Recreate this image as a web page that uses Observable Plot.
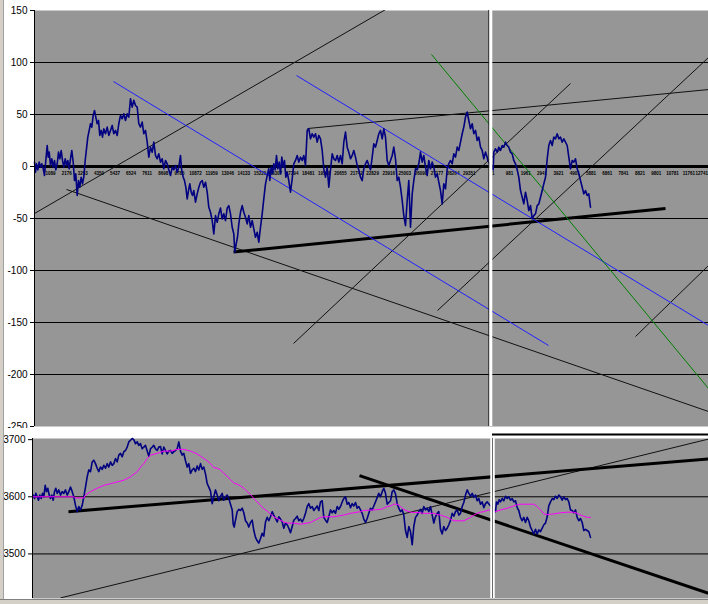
<!DOCTYPE html>
<html><head><meta charset="utf-8">
<script src="https://cdn.jsdelivr.net/npm/d3@7"></script>
<script src="https://cdn.jsdelivr.net/npm/@observablehq/plot@0.6"></script>
<style>
body{margin:0;background:#fff;width:708px;height:604px;overflow:hidden;position:relative;font-family:Arial,"Liberation Sans",sans-serif}
#top{position:absolute;left:0;top:0}
#bot{position:absolute;left:0;top:428px}
#edge{position:absolute;left:0;top:0;width:3px;height:604px;background:#d4d0c8;border-right:1px solid #a0a0a0}
#status{position:absolute;left:0;top:599px;width:708px;height:5px;background:#d4d0c8;border-top:1px solid #808080}
</style></head><body>
<div id="top"></div><div id="bot"></div><div id="edge"></div><div id="status"></div>
<script>
// ---------- DATA ----------
// Upper panel: deviation series (bar position, value)
const devBar = [0,1,2,3.3,4.7,6,7.3,8.7,10,11.3,12.7,13.7,14.7,16,17.3,18.7,20,21.3,22.7,24,25.3,26.7,28,29.3,30.7,32,33.3,34.7,36,37.3,38.7,40,41.3,42.7,44,45.3,46.7,48,49.3,50.7,52,53.3,54.7,56,57.3,58.7,60,61.3,62.7,64,65.3,66.7,68,69.3,71,72.7,74.3,76,77.7,79.3,81,82.7,84.3,86,87.7,89.3,91,92.7,94.3,96,97.7,99.3,101,102.7,104.3,106,107.7,109.3,111,112.7,114.3,116,117.7,119.3,121,122.7,124.3,126,127.7,129.3,131,132.7,134.3,136,137.7,139.3,141,142.7,144.3,146,147,148.7,150,151.3,152.7,154,155.3,156.7,158,159.3,161,162.7,164.3,166,167.7,169.3,171,172.7,174.3,176,177.7,179.3,181,182.7,184.3,186,187.7,189.3,191,192.7,194.3,196,197.7,199.3,200.3,201.7,203,204.3,206,207.7,209.3,211,212.7,214.3,216,217.7,219.3,221,222.7,224.3,226,227.7,229.3,231,232.7,234.3,235.3,236.7,238,239.3,240.7,242,243.3,244.7,246,247.3,248.7,250,251.3,252.7,254.3,256,257.7,259.3,261,262.7,264.3,266,267.7,269.3,271,272.7,274.3,276,277.7,279.3,281,282.7,284.3,286,287.7,289.3,291,292.7,294.3,296,297.7,299.3,301,302.7,304.3,306,307.7,309.3,311,312.7,314.3,316,317.7,319.3,321,322.7,324.3,326,327.7,329.3,331,332.7,334.3,336,337.7,339.3,341,342.7,344.3,346,347.7,349.3,351,352.7,354.3,356,357.7,359.3,361,362.7,364.3,366,367.7,369.3,371,372.7,374.3,376,377.7,379.3,381,382.7,384.3,386,387.7,389.3,391,392.7,394.3,396,397.7,399.3,401,402.7,404.3,406,407.7,409.3,411,412.7,414.3,416,417.7,419.3,421,422.7,424.3,426,427.7,429.3,431,432.7,434.3,436,437.7,439.3,441,442.7,444.3,446,447.7,449.3,451,452.7,453.3,458.7,459.3,461,462.7,464.3,466,467.7,469.3,471,472.7,474.3,476,477.7,479.3,481,482.7,484.3,486,487.7,489.3,491,492.7,494.3,496,497.7,499.3,501,502.7,504.3,506,507.7,509.3,511,512.7,514.3,516,517.7,519.3,521,522.7,524.3,526,527.7,529.3,531,532.7,534.3,536,537.7,539.3,541,542.7,544.3,546,547.7,549.3,551,552.7,554.3,556];
const devValue = [4.2,-5.5,2.6,-3.2,4.2,-0.6,2.6,-2,-8.7,5.8,20.2,9,13.8,1,7.4,-0.6,5.8,-3.2,2.6,13.8,7.4,15.4,5.8,-0.6,7.4,1,5.8,-2.2,7.4,15.4,4.2,-13.5,-7,-27.9,-13.5,-19.9,-10.3,-16.7,-10.3,5.8,17,28.2,34.7,41.1,37.9,49.1,53.9,47.5,41.1,44.3,29.9,34.7,28.2,36.3,31.5,37.9,29.9,34.7,39.5,31.5,34.7,29.9,41.1,49.1,45.9,50.7,44.3,50.7,47.5,65.2,57.1,63.6,58.7,57.1,41.1,37.9,42.7,31.5,34.7,23.4,9,18.6,13.8,23.4,10.6,7.4,12.2,4.2,7.4,-2.2,5.8,2.6,-3.2,-8.7,-0.6,-3.2,1,-5.5,-0.6,10.6,-2.2,-10.3,-13.5,-19.9,-31.1,-23.1,-16.7,-24.7,-27.9,-23.1,-34.3,-26.3,-19.9,-15.1,-13.5,-19.9,-15.1,-24.7,-39.2,-44,-52,-64.8,-47.2,-53.6,-45.5,-40,-50.4,-45.5,-52,-40,-37.6,-45.5,-58.4,-64.8,-82.5,-74.4,-68,-55.2,-44,-37.6,-44,-48.8,-55.2,-47.2,-58.4,-52,-60,-68,-63.2,-72.8,-58.4,-45.5,-31.1,-16.7,-8.7,-2.2,-13.5,-0.6,-7,2.6,-3.2,10.6,-2.2,4.2,-7,9,-0.6,5.8,-10.3,-5.5,-13.5,-24.7,-11.9,2.6,5.8,10.6,4.2,9,5.8,10.6,1,34.7,36.3,26.6,31.5,28.2,31.5,23.4,29.9,26.6,15.4,-2.2,-10.3,-0.6,-19.9,-3.2,12.2,7.4,5.8,10.6,4.2,10.6,2.6,23.4,33.1,18.6,13.8,7.4,10.6,15.4,9,1,-3.2,-10.3,-13.5,-2.2,2.6,5.8,1,-3.2,9,21.8,18.6,25,31.5,34.7,26.6,36.3,28.2,5.8,1,5.8,10.6,18.6,7.4,-13.5,-10.3,-19.9,-32.7,-47.2,-56.8,-32.7,-13.5,-58.4,-26.3,-13.5,-2.2,-3.2,2.6,13.8,4.2,10.6,-0.6,-8.7,5.8,-2.2,4.2,-0.6,-10.3,-7,-15.1,-23.1,-35.9,-16.7,-21.5,-2.2,2.6,5.8,2.6,12.2,9,18.6,15.4,23.4,31.5,37.9,47.5,52.3,44.3,36.3,41.1,31.5,34.7,25,28.2,18.6,15.4,7.4,13.8,9,5.8,-3.2,13.8,17,13.8,18.6,15.4,20.2,18.6,23.4,20.2,18.6,13.8,12.2,5.8,2.6,-3.2,-10.3,-23.1,-29.5,-35.9,-24.7,-32.7,-42.4,-37.6,-50.4,-47.2,-45.5,-37.6,-36,-29.5,-23.1,-16.7,-10.3,7.4,20.2,25,20.2,28.2,26.6,31.5,26.6,28.2,23.4,26.6,23.4,20.2,9,-2.2,5.8,4.2,7.4,-2.2,-7,-13.5,-19.9,-26.3,-23.1,-27.9,-26.3,-39.2];

// Lower panel: price series and its moving average
const priceBar = [0.7,2,3.3,4.7,6,7.3,8.7,10,11.3,12.7,14,15.3,16.7,18,19.3,20.7,22,23.3,24.7,26.3,28,29.7,31.3,33,34.7,36.3,38,39.7,41.3,43,44.7,46.3,48,49.7,51.3,53,54.7,56.3,58,59.7,61.3,63,64.7,66.3,68,69.7,71.3,73,74.7,76.3,78,79.7,81.3,83,84.7,86.3,88,89.7,91.3,93,94.7,96.3,98,99.7,101.3,103,104.7,106.3,108,109.7,111.3,113,114.7,116.3,118,119.7,121.3,123,124.7,126.3,128,129.7,131.3,133,134.7,136.3,138,139.7,141.3,143,144.7,146.3,148,149.7,151.3,153,154.7,156.3,158,159.7,161.3,163,164.7,166.3,168,169.7,171.3,173,174.7,176.3,178,179.7,181.3,183,184.7,186.3,188,189.7,191.3,193,194.7,196.3,198,199.7,200.7,201.7,203,204.7,206.3,208,209.7,211.3,213,214.7,216.3,218,219.7,221.3,223,224.7,226.3,228,229.7,231.3,233,234.7,236.3,238,239.7,241.3,243,244.7,246.3,248,249.7,251.3,253,254.7,256.3,258,259.7,261.3,263,264.7,266.3,268,269.7,271.3,273,274.7,276.3,278,279.7,281.3,283,284.7,286.3,288,289.7,291.3,293,294.7,296.3,298,299.7,301.3,303,304.7,306.3,308,309.7,311.3,313,314.7,316.3,318,319.7,321.3,323,324.7,326.3,328,329.7,331.3,333,334.7,336.3,338,339.7,341.3,343,344.7,346.3,348,349.7,351.3,353,354.7,356.3,358,359.7,361.3,363,364.7,366.3,368,369.7,371.3,373,374.7,376.3,378,379.7,381.3,383,384.7,386.3,388,389.7,391.3,393,394.7,396.3,398,399.7,401.3,403,404.7,406.3,408,409.7,411.3,413,414.7,416.3,418,419.7,421.3,423,424.7,426.3,428,429.7,431.3,433,434.7,436.3,438,439.7,441.3,443,444.7,446.3,448,449.7,451.3,453,454.7,463,464,465.3,466.7,468,469.7,471.3,473,474.7,476.3,478,479.7,481.3,483,484.7,486.3,488,489.7,491.3,493,494.7,496.3,498,499.7,501.3,503,504.7,506.3,508,509.7,511.3,513,514.7,516.3,518,519.7,521.3,523,524.7,526.3,528,529.7,531.3,533,534.7,536.3,538,539.7,541.3,543,544.7,546.3,548,549.7,551.3,553,554.7,556.3,558];
const priceValue = [3603,3597,3606,3600,3594,3603,3597,3606,3600,3620,3609,3615,3603,3597,3603,3594,3609,3615,3606,3612,3603,3609,3606,3612,3603,3609,3617,3609,3600,3585,3574,3583,3577,3585,3600,3617,3635,3647,3644,3661,3664,3658,3650,3644,3652,3648,3655,3650,3658,3652,3661,3655,3658,3667,3661,3673,3676,3670,3679,3681,3687,3696,3699,3702,3700,3693,3696,3690,3693,3684,3687,3690,3680,3671,3684,3687,3690,3684,3681,3687,3688,3675,3687,3681,3675,3680,3681,3676,3679,3681,3684,3696,3680,3673,3676,3663,3652,3658,3641,3647,3650,3644,3654,3647,3658,3648,3652,3640,3623,3617,3610,3588,3600,3612,3603,3593,3601,3606,3594,3600,3603,3597,3587,3577,3552,3547,3559,3574,3578,3576,3580,3572,3558,3554,3547,3555,3559,3541,3529,3523,3519,3527,3536,3531,3556,3564,3558,3565,3574,3568,3562,3556,3565,3561,3556,3545,3554,3551,3545,3537,3548,3559,3562,3566,3558,3561,3556,3562,3571,3583,3588,3580,3583,3576,3580,3584,3576,3591,3593,3564,3559,3555,3565,3577,3572,3576,3571,3583,3578,3583,3591,3597,3600,3587,3590,3581,3588,3584,3590,3580,3583,3577,3571,3561,3555,3562,3571,3580,3577,3584,3591,3599,3606,3600,3609,3615,3606,3587,3590,3593,3609,3612,3605,3588,3580,3574,3577,3568,3541,3529,3548,3539,3516,3548,3564,3568,3574,3578,3571,3583,3577,3580,3574,3583,3568,3554,3565,3571,3574,3543,3535,3548,3541,3545,3551,3559,3571,3566,3574,3577,3568,3571,3583,3590,3603,3612,3606,3601,3606,3599,3603,3593,3597,3587,3591,3581,3588,3591,3574,3591,3587,3595,3591,3597,3593,3601,3597,3600,3594,3597,3591,3593,3581,3576,3564,3558,3564,3555,3564,3558,3547,3541,3535,3543,3535,3542,3539,3545,3551,3554,3565,3584,3591,3597,3595,3601,3597,3603,3600,3594,3600,3595,3597,3591,3577,3576,3572,3577,3564,3558,3562,3555,3541,3543,3541,3539,3529];
const avgBar = [0.7,41.3,43,51.3,53,58,64.7,71.3,78,84.7,91.3,98,104.7,108,111.3,114.7,118,124.7,131.3,138,144.7,151.3,158,164.7,168,171.3,174.7,178,181.3,184.7,188,191.3,194.7,198,201.3,204.7,208,211.3,214.7,218,221.3,224.7,228,231.3,234.7,238,241.3,244.7,248,251.3,254.7,261.3,268,274.7,278,281.3,284.7,288,291.3,301.3,304.7,311.3,318,328,331.3,341.3,348,351.3,354.7,358,361.3,364.7,368,371.3,374.7,378,388,391.3,401.3,404.7,408,411.3,414.7,418,421.3,428,431.3,434.7,438,441.3,444.7,448,451.3,456.3,463,468,474.7,481.3,484.7,488,494.7,501.3,504.7,508,511.3,514.7,521.3,528,534.7,541.3,544.7,548,551.3,554.7,558];
const avgValue = [3600,3600,3598,3598,3603,3609,3615,3620,3623,3626,3629,3635,3644,3652,3658,3667,3673,3676,3680,3680,3683,3683,3680,3675,3671,3667,3663,3658,3651,3650,3647,3641,3636,3630,3624,3622,3619,3615,3609,3604,3597,3591,3585,3579,3575,3570,3565,3562,3559,3556,3554,3554,3552,3554,3555,3558,3561,3564,3565,3565,3566,3568,3571,3574,3576,3577,3578,3580,3583,3584,3587,3587,3583,3578,3575,3573,3572,3571,3571,3569,3568,3566,3564,3561,3558,3558,3558,3561,3564,3568,3571,3573,3574,3577,3574,3577,3580,3584,3586,3587,3587,3587,3583,3577,3570,3569,3570,3572,3573,3573,3571,3568,3566,3564,3564];

// Trend lines (bar position, value) endpoints
const devTrends = [
  {x1:0,y1:-45.2,x2:358,y2:154.8,kind:"thin"},
  {x1:32,y1:-22.1,x2:674,y2:-235.6,kind:"thin"},
  {x1:79,y1:81.7,x2:514,y2:-172.1,kind:"blue"},
  {x1:262,y1:87.5,x2:674,y2:-152.9,kind:"blue"},
  {x1:397,y1:107.7,x2:674,y2:-213.5,kind:"green"},
  {x1:273,y1:36.5,x2:674,y2:74.0,kind:"thin"},
  {x1:199,y1:-82.2,x2:631,y2:-40.4,kind:"thick"},
  {x1:259,y1:-170.2,x2:536,y2:79.8,kind:"thin"},
  {x1:403,y1:-138.5,x2:674,y2:104.8,kind:"thin"},
  {x1:601,y1:-163.5,x2:674,y2:-95.2,kind:"thin"}
];
const priceTrends = [
  {x1:36,y1:3574,x2:676,y2:3666,kind:"thick"},
  {x1:28,y1:3423,x2:676,y2:3701,kind:"thin"},
  {x1:327,y1:3637,x2:676,y2:3431,kind:"thick"}
];

// Axis ticks and category labels
const devTicks = [150,100,50,0,-50,-100,-150,-200,-250];
const devGrid = [100,50,-50,-100,-150,-200];
const priceTicks = [3700,3600,3500];
const priceGrid = [3600,3500];
const leftIndexLabels = ["1089","2176","3263","4350","5437","6524","7611","8698","9785","10872","11959","13046","14133","15220","16307","17394","18481","19568","20655","21742","22829","23916","25003","26090","27177","28264","29351"];
const rightIndexLabels = ["1","981","1961","2941","3921","4901","5881","6861","7841","8821","9801","10781","11761","12741"];
const windowSplitDev = 456.3;   // bar where the second chart window begins (upper)
const windowSplitPrice = 460;   // (lower)

// ---------- STYLES ----------
const trendStyle = {
  thin:{stroke:"#111", width:1},
  thick:{stroke:"#000", width:3},
  blue:{stroke:"#2020ff", width:1},
  green:{stroke:"#008000", width:1}
};
const font = "Arial, 'Liberation Sans', sans-serif";
const plotGray = "#969696";

// category-index -> bar position mapping for the two windows
const leftBarsPerIndex = 16.1/1087, rightBarsPerIndex = 16.3/980, rightStart = 458.7;
const catLabels = leftIndexLabels.map(s => ({b:(+s - 1)*leftBarsPerIndex, s}))
  .concat(rightIndexLabels.map(s => ({b:rightStart + (+s - 1)*rightBarsPerIndex, s})));
const edgeBar = 667;

const devData = devBar.map((b,i)=>({b, v:devValue[i]}));
const priceData = priceBar.map((b,i)=>({b, v:priceValue[i]}));
const avgData = avgBar.map((b,i)=>({b, v:avgValue[i]}));

function trendMarks(list){
  return Object.keys(trendStyle).map(k => Plot.link(list.filter(d=>d.kind===k),
    {x1:"x1",y1:"y1",x2:"x2",y2:"y2",stroke:trendStyle[k].stroke,strokeWidth:trendStyle[k].width,clip:true}));
}

const topChart = Plot.plot({
  width:708, height:428,
  marginLeft:34, marginRight:0, marginTop:10, marginBottom:2,
  style:{background:"white", fontFamily:font, fontSize:"10px", color:"#000", overflow:"visible"},
  x:{domain:[0,674], axis:null},
  y:{domain:[-250,150], ticks:devTicks, tickSize:4, tickPadding:3, tickFormat:d=>String(d), label:null},
  marks:[
    Plot.frame({fill:plotGray, stroke:"none"}),
    Plot.ruleY(devGrid, {stroke:"#000", strokeWidth:1}),
    Plot.ruleY([0], {stroke:"#000", strokeWidth:3}),
    Plot.text(catLabels.filter(d=>d.b < edgeBar), {x:"b", y:0, text:"s", dy:7, fontSize:4.5, fontWeight:"bold", fill:"#000"}),
    Plot.text(catLabels.filter(d=>d.b >= edgeBar), {x:"b", y:0, text:"s", dy:7, dx:3, fontSize:4.5, fontWeight:"bold", fill:"#000", textAnchor:"end"}),
    ...trendMarks(devTrends),
    Plot.line(devData, {x:"b", y:"v", stroke:"#000080", strokeWidth:1.6}),
    Plot.ruleX([windowSplitDev - 2], {stroke:"#222", strokeWidth:1}),
    Plot.ruleX([windowSplitDev], {stroke:"#fff", strokeWidth:3}),
    Plot.ruleX([0], {stroke:"#000", strokeWidth:1})
  ]
});
document.getElementById("top").appendChild(topChart);

const botChart = Plot.plot({
  width:708, height:176,
  marginLeft:32, marginRight:0, marginTop:10, marginBottom:6,
  style:{background:"white", fontFamily:font, fontSize:"10px", color:"#000", overflow:"visible"},
  x:{domain:[0,676], axis:null},
  y:{domain:[3422,3702], ticks:priceTicks, tickSize:4, tickPadding:3, tickFormat:d=>String(d), label:null},
  marks:[
    Plot.frame({fill:plotGray, stroke:"none"}),
    Plot.ruleY(priceGrid, {stroke:"#000", strokeWidth:1}),
    ...trendMarks(priceTrends),
    Plot.line(priceData, {x:"b", y:"v", stroke:"#000080", strokeWidth:1.6}),
    Plot.line(avgData, {x:"b", y:"v", stroke:"#ff00ff", strokeWidth:1}),
    Plot.ruleX([windowSplitPrice], {stroke:"#fff", strokeWidth:4.5}),
    Plot.ruleX([windowSplitPrice], {stroke:"#444", strokeWidth:0.8}),
    Plot.ruleY([3709], {x1:windowSplitPrice, x2:676, stroke:"#000", strokeWidth:2}),
    Plot.ruleX([0], {stroke:"#000", strokeWidth:1})
  ]
});
document.getElementById("bot").appendChild(botChart);
</script></body></html>
